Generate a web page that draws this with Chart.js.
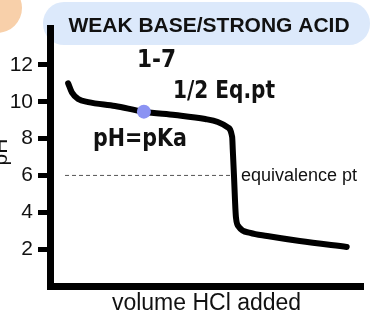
<!DOCTYPE html>
<html>
<head>
<meta charset="utf-8">
<script src="https://cdn.jsdelivr.net/npm/chart.js@4"></script>
<style>
  html, body { margin: 0; padding: 0; background: #fff; }
  #titration { display: block; }
</style>
</head>
<body>
<canvas id="titration" width="380" height="320"></canvas>
<script>
// titration curve
const volume = [2.9, 3.5, 4.5, 6.1, 10.4, 15.0, 20.0, 24.8, 26.8, 28.3, 29.1, 29.2, 29.4, 29.55, 29.7, 30.2, 32.0, 34.7, 39.9, 47.4];
const pH = [11.0, 10.5, 10.15, 9.98, 9.77, 9.46, 9.28, 9.06, 8.9, 8.63, 8.08, 7.38, 5.91, 4.67, 3.74, 3.2, 2.88, 2.71, 2.44, 2.12];

// half equivalence point marker
const halfEqVolume = [15.0];
const halfEqPH = [9.46];

// dashed guide at the equivalence pH
const guideVolume = [2.4, 29.1];
const guidePH = [6, 6];

const yTicks = [2, 4, 6, 8, 10, 12];

const toPoints = (xs, ys) => xs.map((x, i) => ({ x: x, y: ys[i] }));

// background, peach blob, title pill and handwritten notes
const decorations = {
    id: 'decorations',
    beforeDraw(chart) {
        const ctx = chart.ctx;
        ctx.save();
        ctx.fillStyle = '#ffffff';
        ctx.fillRect(0, 0, chart.width, chart.height);

        ctx.fillStyle = '#f8d0aa';
        ctx.beginPath();
        ctx.arc(-3, 8, 25, 0, Math.PI * 2);
        ctx.fill();

        ctx.fillStyle = '#dce9fb';
        ctx.beginPath();
        ctx.roundRect(43, 2, 327, 43, 21);
        ctx.fill();

        ctx.fillStyle = '#111';
        ctx.font = 'bold 21px "Liberation Sans", Arial, sans-serif';
        ctx.textAlign = 'center';
        ctx.textBaseline = 'middle';
        ctx.fillText('WEAK BASE/STRONG ACID', 209, 26);
        ctx.restore();
    },
    afterDraw(chart) {
        const ctx = chart.ctx;
        ctx.save();
        ctx.fillStyle = '#111';
        ctx.textBaseline = 'middle';
        ctx.textAlign = 'left';

        ctx.font = '18px "Liberation Sans", Arial, sans-serif';
        ctx.fillText('equivalence pt', 241, 176);

        ctx.font = 'bold 24px "DejaVu Sans Condensed", "DejaVu Sans", sans-serif';
        ctx.fillText('1-7', 137, 61, 53);
        ctx.fillText('1/2 Eq.pt', 173, 92, 102);
        ctx.fillText('pH=pKa', 93, 140, 94);

        // y title, mostly off the left edge
        ctx.translate(1, 152);
        ctx.rotate(-Math.PI / 2);
        ctx.textAlign = 'center';
        ctx.font = '21px "Liberation Sans", Arial, sans-serif';
        ctx.fillText('pH', 0, 0);
        ctx.restore();
    }
};

const ctx = document.getElementById('titration').getContext('2d');
const titrationChart = new Chart(ctx, {
    type: 'line',
    data: {
        datasets: [{
            data: toPoints(halfEqVolume, halfEqPH),
            showLine: false,
            pointRadius: 7,
            pointBackgroundColor: '#8b93f3',
            pointBorderWidth: 0,
            order: 0
        }, {
            data: toPoints(volume, pH),
            borderColor: '#000',
            borderWidth: 6,
            borderCapStyle: 'round',
            borderJoinStyle: 'round',
            cubicInterpolationMode: 'monotone',
            pointRadius: 0,
            order: 1
        }, {
            data: toPoints(guideVolume, guidePH),
            borderColor: '#555',
            borderWidth: 1,
            borderDash: [4, 3],
            pointRadius: 0,
            order: 2
        }]
    },
    options: {
        responsive: false,
        animation: false,
        devicePixelRatio: 1,
        layout: {
            padding: { top: 28, right: 17, left: 0, bottom: 0 }
        },
        plugins: {
            legend: { display: false },
            tooltip: { enabled: false }
        },
        scales: {
            x: {
                type: 'linear',
                min: 0,
                max: 50,
                afterFit: (scale) => { scale.height = 34; },
                grid: { display: true, drawOnChartArea: false, drawTicks: false },
                border: { display: true, color: '#000', width: 7 },
                ticks: { display: false },
                title: {
                    display: true,
                    text: 'volume HCl added',
                    color: '#111',
                    font: { family: '"Liberation Sans", Arial, sans-serif', size: 23 },
                    padding: { top: 0, bottom: 3 }
                }
            },
            y: {
                type: 'linear',
                min: 0,
                max: 14,
                afterFit: (scale) => { scale.width = 50; },
                afterBuildTicks: (scale) => { scale.ticks = yTicks.map(v => ({ value: v })); },
                grid: {
                    drawOnChartArea: false,
                    drawTicks: true,
                    tickLength: 12,
                    tickColor: '#000',
                    tickWidth: 5
                },
                border: { display: true, color: '#000', width: 7 },
                ticks: {
                    color: '#111',
                    padding: 5,
                    font: { family: '"Liberation Sans", Arial, sans-serif', size: 21 }
                }
            }
        }
    },
    plugins: [decorations]
});
</script>
</body>
</html>
